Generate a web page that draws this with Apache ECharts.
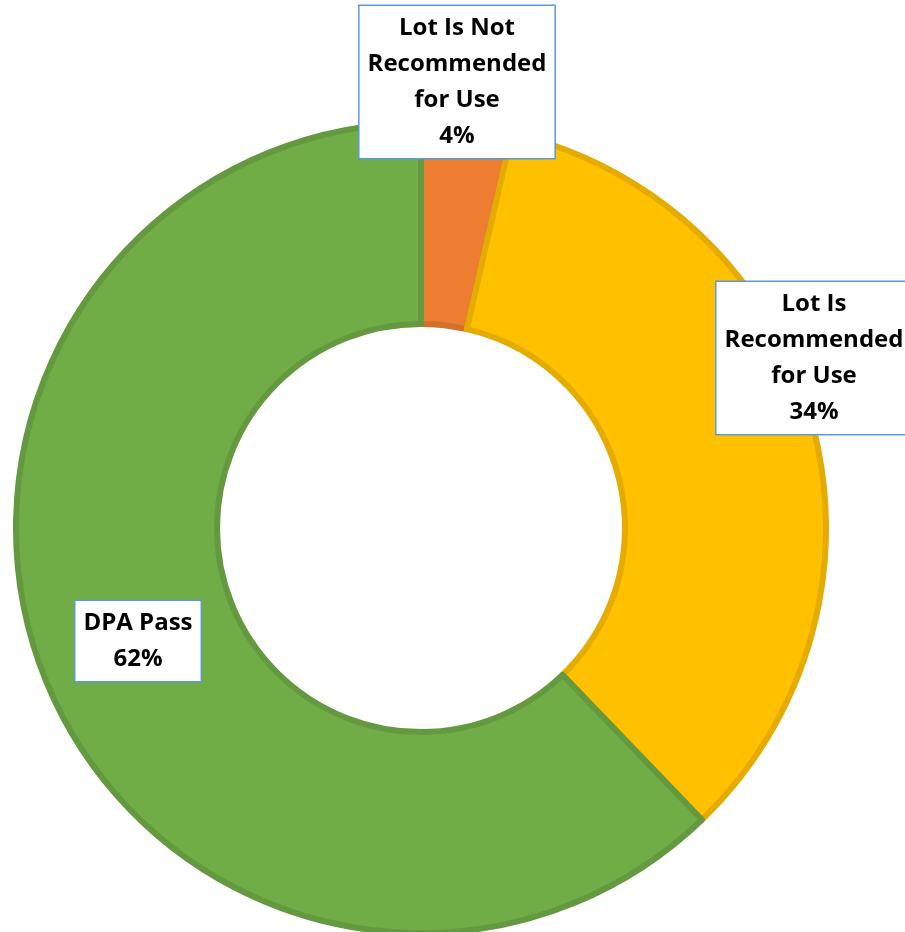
<!DOCTYPE html>
<html><head><meta charset="utf-8">
<script src="https://cdn.jsdelivr.net/npm/echarts@6/dist/echarts.min.js"></script>
<style>html,body{margin:0;padding:0;background:#fff}#c{width:905px;height:932px}</style>
</head><body><div id="c"></div>
<script>
const categories = ["Lot Is Not Recommended for Use", "Lot Is Recommended for Use", "DPA Pass"];
const labelTexts = ["Lot Is Not\nRecommended\nfor Use", "Lot Is\nRecommended\nfor Use", "DPA Pass"];
const values = [3.6, 34.2, 62.2];
const colors = ["#ED7D31", "#FFC000", "#70AD47"];
const borders = ["#D3702C", "#E4AB00", "#64993F"];

const labelPos = [[457, 82], [814, 358], [138, 641]];

const chart = echarts.init(document.getElementById('c'));
chart.setOption({
  animation: false,
  series: [{
    type: 'pie',
    center: [421, 528],
    radius: [204, 405],
    startAngle: 90,
    clockwise: true,
    data: categories.map((c, i) => ({
      name: c, value: values[i],
      itemStyle: { color: colors[i], borderColor: borders[i], borderWidth: 6 }
    })),
    labelLine: { show: false },
    label: {
      show: true,
      position: 'inside',
      overflow: 'none',
      formatter: p => labelTexts[p.dataIndex] + '\n' + Math.round(p.percent) + '%',
      fontFamily: 'Open Sans',
      fontWeight: 'bold',
      fontSize: 24,
      lineHeight: 36,
      color: '#000',
      align: 'center',
      backgroundColor: '#fff',
      borderColor: '#5B9BD5',
      borderWidth: 1.5,
      padding: [4, 8, 4, 8]
    },
    labelLayout: p => ({ x: labelPos[p.dataIndex][0], y: labelPos[p.dataIndex][1], align: 'center', verticalAlign: 'middle' })
  }]
});
</script></body></html>
